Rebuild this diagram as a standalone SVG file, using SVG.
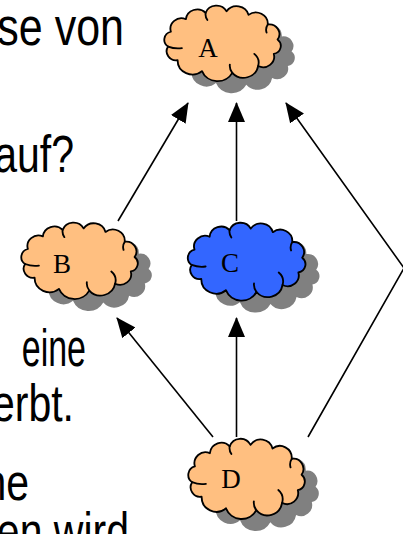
<svg xmlns="http://www.w3.org/2000/svg" xmlns:xlink="http://www.w3.org/1999/xlink" width="403" height="534" viewBox="0 0 403 534">
  <style>
    .slide { font-family: "Liberation Sans", Arial, sans-serif; font-size: 41px; fill: #000; text-anchor: end; }
    .label { font-family: "Liberation Serif", "Times New Roman", serif; font-size: 27px; fill: #000; text-anchor: middle; }
    .shadow { fill: #808080; stroke: none; }
    .body { stroke: #000; stroke-width: 1.8; stroke-linejoin: round; }
    .orange { fill: #FFBF80; }
    .blue { fill: #3366FF; }
    .curl { fill: none; stroke: #000; stroke-width: 1.8; stroke-linecap: round; }
    .edge { fill: none; stroke: #000; stroke-width: 1.6; marker-end: url(#arrow); }
  </style>
  <defs>
    <!-- cloud outline: shallow arc bumps between points on an ellipse -->
    <path id="cloud" d="M6.5,44.4 A8.5,8.5 0 0 1 9.2,29.1 A10.8,10.8 0 0 1 23.9,16.2 A11.3,11.3 0 0 1 43.3,9.6 A11.3,11.3 0 0 1 63.8,8.1 A12,12 0 0 1 85.3,11.7 A11.7,11.7 0 0 1 104.2,21.6 A10,10 0 0 1 113.8,37.2 A8.4,8.4 0 0 1 110.1,52 A10.9,10.9 0 0 1 94.7,64.5 A14.5,14.5 0 0 1 69.4,71.5 A16.4,16.4 0 0 1 39.7,69.7 A14.5,14.5 0 0 1 15.8,58.4 A9.2,9.2 0 0 1 6.5,44.4 Z"/>
    <!-- small inner strokes of the cloud -->
    <path id="curls" d="M6.5,44.4 Q13,47 20,46 M94.7,64.5 A12,12 0 0 0 91,52 M69.4,71.5 A12,12 0 0 1 67,63 M104.2,21.6 A10,10 0 0 0 103,30 M43.3,9.6 A10,10 0 0 0 45,17"/>
    <marker id="arrow" markerUnits="userSpaceOnUse" viewBox="0 0 20 17" markerWidth="20" markerHeight="17" refX="19" refY="8.5" orient="auto">
      <path d="M0,0 L20,8.5 L0,17 Z" fill="#000"/>
    </marker>
  </defs>

  <!-- slide text at the left edge -->
  <g id="slide-text">
    <text class="slide" style="font-size:43px" transform="translate(124,45) scale(1,1.22)">se von</text>
    <text class="slide" transform="translate(74,172) scale(1,1.28)">auf?</text>
    <text class="slide" style="font-size:34px" transform="translate(86,366) scale(1,1.55)">eine</text>
    <text class="slide" transform="translate(74,421) scale(1,1.28)">erbt.</text>
    <text class="slide" transform="translate(29,500) scale(1,1.28)">ne</text>
    <text class="slide" transform="translate(129,549) scale(1,1.28)">en wird</text>
  </g>

  <!-- inheritance edges -->
  <g id="connectors">
    <path class="edge" d="M118,221 L188,103"/>
    <path class="edge" d="M236.5,221 L236.5,103"/>
    <path class="edge" d="M308,437 L404,268 L286,103"/>
    <path class="edge" d="M213,437 L117,318"/>
    <path class="edge" d="M236.5,437 L236.5,318"/>
  </g>

  <g id="node-A">
    <use xlink:href="#cloud" class="shadow" transform="translate(175.5,15.5) scale(1.02,0.97)"/>
    <g transform="translate(161.5,3.5) scale(1.02,0.97)">
      <use xlink:href="#cloud" class="body orange"/>
      <use xlink:href="#curls" class="curl"/>
    </g>
    <text class="label" x="208" y="57">A</text>
  </g>

  <g id="node-B">
    <use xlink:href="#cloud" class="shadow" transform="translate(32.5,232.5) scale(1.02,0.98)"/>
    <g transform="translate(18.5,220.5) scale(1.02,0.98)">
      <use xlink:href="#cloud" class="body orange"/>
      <use xlink:href="#curls" class="curl"/>
    </g>
    <text class="label" x="62" y="273">B</text>
  </g>

  <g id="node-C">
    <use xlink:href="#cloud" class="shadow" transform="translate(199,232.5) scale(1.03,1)"/>
    <g transform="translate(185,220.5) scale(1.03,1)">
      <use xlink:href="#cloud" class="body blue"/>
      <use xlink:href="#curls" class="curl"/>
    </g>
    <text class="label" x="230" y="272">C</text>
  </g>

  <g id="node-D">
    <use xlink:href="#cloud" class="shadow" transform="translate(199.5,448.5) scale(1.02,1.03)"/>
    <g transform="translate(185.5,436.5) scale(1.02,1.03)">
      <use xlink:href="#cloud" class="body orange"/>
      <use xlink:href="#curls" class="curl"/>
    </g>
    <text class="label" x="231" y="488">D</text>
  </g>
</svg>
